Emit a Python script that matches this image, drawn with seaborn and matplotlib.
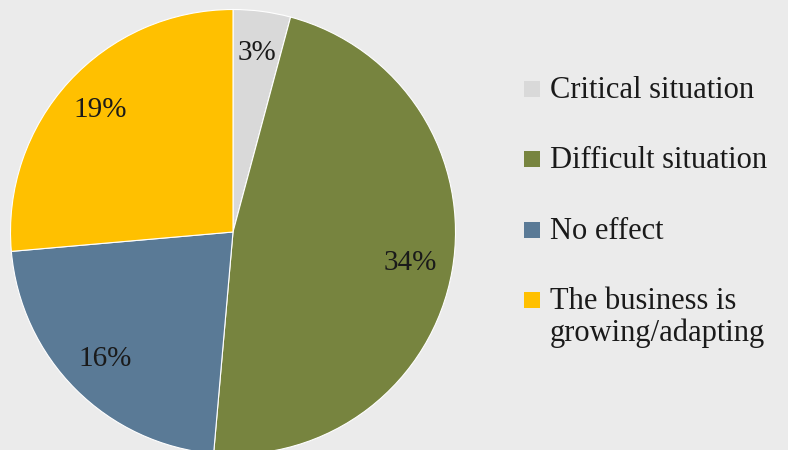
import matplotlib
matplotlib.use("Agg")
import matplotlib.pyplot as plt
import matplotlib.patches as mpatches
import seaborn as sns

categories = ["Critical situation", "Difficult situation", "No effect",
              "The business is\ngrowing/adapting"]
values = [3, 34, 16, 19]
colors = ["#D9D9D9", "#77843F", "#5A7A96", "#FFC000"]

sns.set_theme(style="white")
plt.rcParams["font.family"] = ["Liberation Serif", "DejaVu Serif"]

bg = "#EBEBEB"
ink = "#1a1a1a"
W, H = 788, 450
fig = plt.figure(figsize=(W / 100, H / 100), dpi=100, facecolor=bg)

# pie axes: centre and radius in pixels
cx, cy, r = 233, 218, 222.5
ax = fig.add_axes([(cx - r) / W, (cy - r) / H, 2 * r / W, 2 * r / H])
ax.set_facecolor("none")

total = sum(values)
wedges, texts, autotexts = ax.pie(
    values,
    colors=colors,
    startangle=90,
    counterclock=False,
    radius=1.0,
    autopct=lambda p: f"{round(p * total / 100)}%",
    pctdistance=0.81,
    wedgeprops=dict(edgecolor="white", linewidth=0.8, clip_on=False),
    textprops=dict(fontsize=21, color=ink),
)
ax.set_xlim(-1, 1)
ax.set_ylim(-1, 1)
ax.set_aspect("equal")
ax.axis("off")

# legend on the right: square swatch next to the first line of each label
legend_fs = 22
ascent = 0.683 * legend_fs * 100 / 72          # top of first line above its baseline, px
first_baseline, row_step = 97, 70.3
sw_left, sw_size, text_left = 524, 16, 550
for i, (cat, col) in enumerate(zip(categories, colors)):
    base = first_baseline + i * row_step
    fig.patches.append(mpatches.Rectangle(
        (sw_left / W, 1 - base / H), sw_size / W, sw_size / H,
        transform=fig.transFigure, facecolor=col, edgecolor="none"))
    fig.text(text_left / W, 1 - (base - ascent) / H, cat, fontsize=legend_fs,
             color=ink, va="top", ha="left", linespacing=1.1)

fig.savefig("out.png", dpi=100, facecolor=bg)
